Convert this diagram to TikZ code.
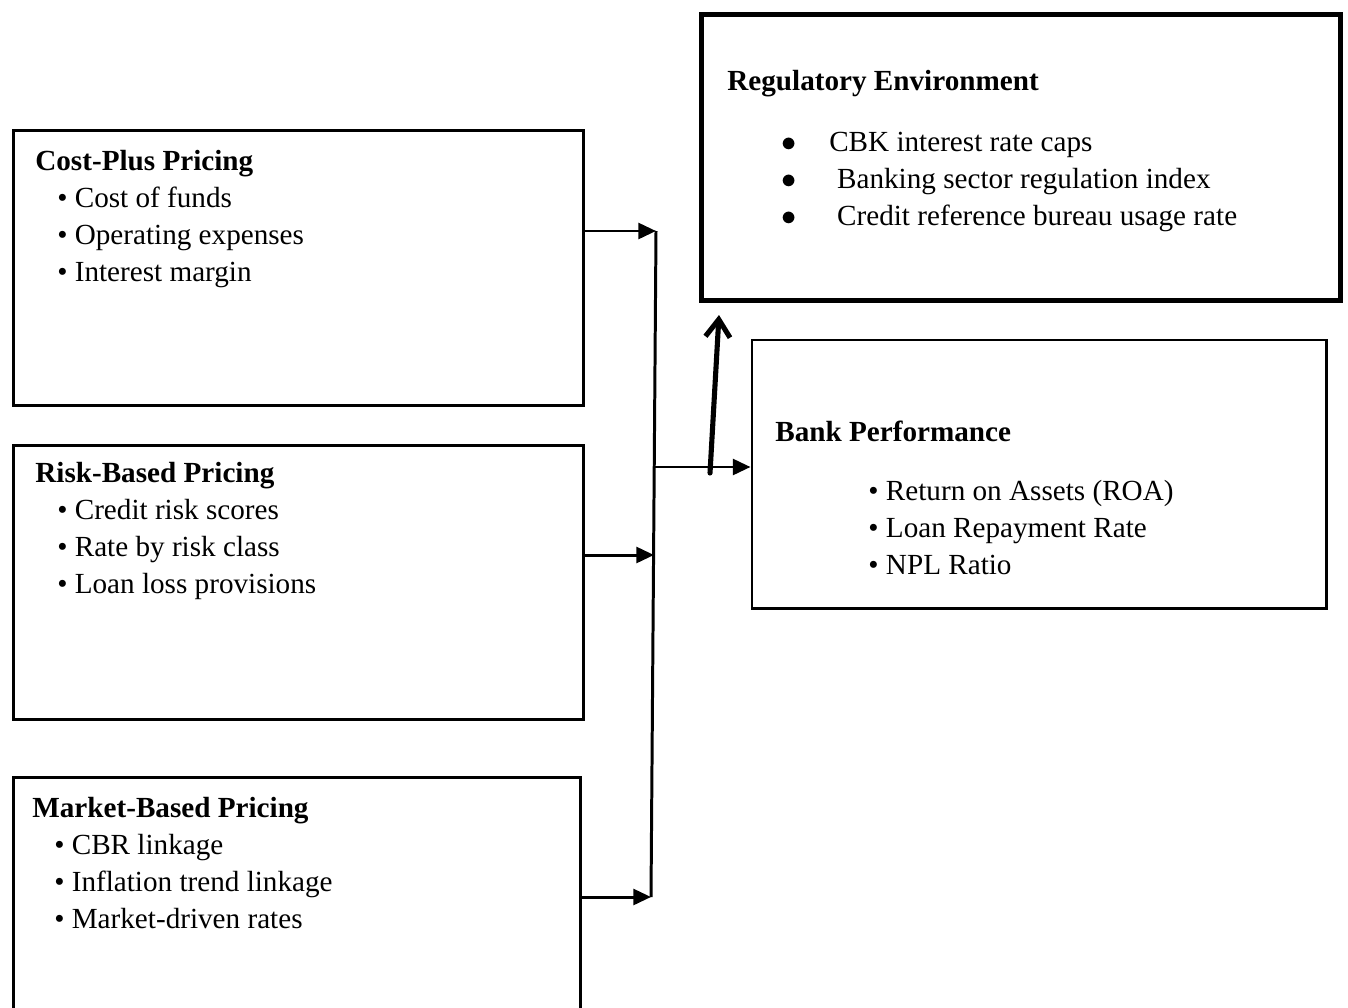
\documentclass[tikz,border=0pt]{standalone}
\usepackage{fontspec}
\setmainfont{Liberation Serif}
\usetikzlibrary{arrows.meta,calc}
\tikzset{
  frame/.style   ={draw=black,line width=1.7pt,anchor=north west,inner sep=0pt},
  regframe/.style={frame,line width=2.9pt},
  txt/.style     ={anchor=north west,inner sep=0pt,align=left,
                   font=\fontsize{16.6}{21}\selectfont},
  link/.style    ={line width=1.7pt},
  flow/.style    ={-{Triangle[length=10pt,width=9pt]},line width=1.7pt},
  lift/.style    ={-{Straight Barb[length=10pt,width=14pt]},line width=2.9pt,line cap=round}
}
\newcommand{\itm}[1]{\hspace*{12.5pt}\textbullet\ #1}
\newcommand{\bitm}[1]{\hspace*{53pt}\textbullet\ #1}
\newcommand{\ritm}[2][0pt]{\hspace*{31pt}\makebox[27pt][l]{$\bullet$}\hspace*{#1}#2}

\begin{document}
\begin{tikzpicture}[x=0.02cm,y=-0.02cm]
    \clip (0,0) rectangle (1348,1007);
    % pricing boxes
    \node[frame,minimum width=11.41cm,minimum height=5.51cm] (cost) at (12,129) {};
    \node[frame,minimum width=11.41cm,minimum height=5.49cm] (risk) at (12,444) {};
    \node[frame,minimum width=11.35cm,minimum height=5.4cm] (market) at (12,776) {};
    \node[txt] (costtxt) at ($(cost.north west)+(23,21)$)
      {\textbf{Cost-Plus Pricing}\\\itm{Cost of funds}\\\itm{Operating expenses}\\\itm{Interest margin}};
    \node[txt] (risktxt) at ($(risk.north west)+(23,18)$)
      {\textbf{Risk-Based Pricing}\\\itm{Credit risk scores}\\\itm{Rate by risk class}\\\itm{Loan loss provisions}};
    \node[txt] (markettxt) at ($(market.north west)+(20,21)$)
      {\textbf{Market-Based Pricing}\\\itm{CBR linkage}\\\itm{Inflation trend linkage}\\\itm{Market-driven rates}};
    % outcome boxes
    \node[regframe,minimum width=12.78cm,minimum height=5.72cm] (reg) at (699,12) {};
    \node[frame,minimum width=11.5cm,minimum height=5.38cm] (bank) at (750.5,338.5) {};
    \node[txt] (regtxt) at ($(reg.north west)+(28,58)$)
      {\textbf{Regulatory Environment}\\[13.7pt]\ritm{CBK interest rate caps}\\
       \ritm[4.5pt]{Banking sector regulation index}\\\ritm[4.5pt]{Credit reference bureau usage rate}};
    \node[txt] (banktxt) at ($(bank.north west)+(24.5,82)$)
      {\textbf{Bank Performance}\\[12.5pt]\bitm{Return on Assets (ROA)}\\\bitm{Loan Repayment Rate}\\\bitm{NPL Ratio}};
    % connectors
    \coordinate (j1) at (656,231);
    \coordinate (j2) at (654,555);
    \coordinate (j3) at (651,897);
    \coordinate (jb) at (653,467);
    \coordinate (up0) at (710,473);
    \coordinate (up1) at (719,315);
    \draw[link] (j1) -- (j3);
    \draw[flow] (cost.east |- j1) -- (j1);
    \draw[flow] (risk.east |- j2) -- (j2);
    \draw[flow] (market.east |- j3) -- (j3);
    \draw[flow] (jb) -- (bank.west |- jb);
    \draw[lift] (up0) -- (up1);
\end{tikzpicture}
\end{document}
